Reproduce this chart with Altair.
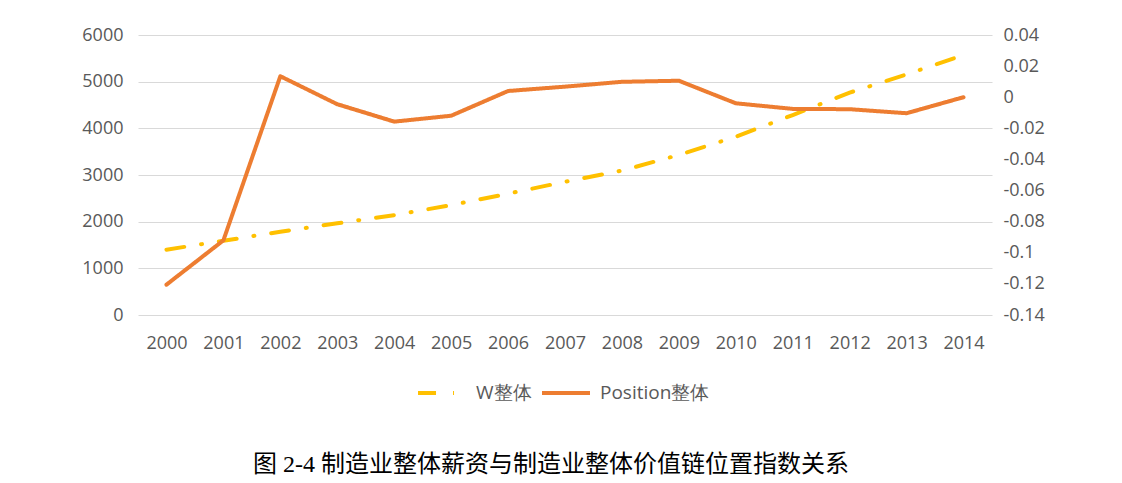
import altair as alt
import pandas as pd

years = [str(y) for y in range(2000, 2015)]
w_values = [1400, 1590, 1785, 1965, 2140, 2355, 2600, 2855, 3095, 3430, 3820, 4285, 4765, 5155, 5570]
pos_values = [-0.1205, -0.092, 0.0135, -0.0045, -0.0157, -0.0119, 0.004, 0.0068, 0.0099, 0.0106,
              -0.0039, -0.0075, -0.0077, -0.0103, 0.0]
series_names = ["W整体", "Position整体"]
left_ticks = [0, 1000, 2000, 3000, 4000, 5000, 6000]
right_ticks = [-0.14, -0.12, -0.1, -0.08, -0.06, -0.04, -0.02, 0, 0.02, 0.04]
title_text = "图 2-4  制造业整体薪资与制造业整体价值链位置指数关系"

df = pd.DataFrame({
    "year": years * 2,
    "series": [series_names[0]] * len(years) + [series_names[1]] * len(years),
    "value": w_values + pos_values,
})

FONT = "Open Sans"
GRAY = "#595959"
FS = 18

color = alt.Color(
    "series:N",
    scale=alt.Scale(domain=series_names, range=["#FFC000", "#ED7D31"]),
    legend=alt.Legend(
        title=None, orient="none", legendX=278, legendY=332, direction="horizontal",
        symbolType="stroke", symbolStrokeWidth=4, symbolSize=2300,
        labelFont=FONT, labelFontSize=19, labelColor=GRAY,
        columnPadding=2, labelOffset=8,
    ),
)
dash = alt.StrokeDash(
    "series:N",
    scale=alt.Scale(domain=series_names, range=[[18, 17, 1, 17], [1, 0]]),
    legend=alt.Legend(title=None),
)

x = alt.X("year:O", title=None,
          axis=alt.Axis(labelAngle=0, labelFont=FONT, labelFontSize=FS, labelColor=GRAY,
                        domain=False, ticks=False, labelPadding=19, grid=False))

w_line = alt.Chart(df).transform_filter(alt.datum.series == series_names[0]).mark_line(
    strokeWidth=4, strokeCap="round"
).encode(
    x=x,
    y=alt.Y("value:Q", title=None,
            scale=alt.Scale(domain=[0, 6000], nice=False),
            axis=alt.Axis(values=left_ticks, format="d", labelFont=FONT, labelFontSize=FS,
                          labelColor=GRAY, domain=False, ticks=False, labelPadding=15,
                          grid=True, gridColor="#D9D9D9", gridWidth=1)),
    color=color,
    strokeDash=dash,
)

p_line = alt.Chart(df).transform_filter(alt.datum.series == series_names[1]).mark_line(
    strokeWidth=4, strokeCap="round", strokeJoin="round"
).encode(
    x=x,
    y=alt.Y("value:Q", title=None,
            scale=alt.Scale(domain=[-0.14, 0.04], nice=False),
            axis=alt.Axis(orient="right", values=right_ticks,
                          labelExpr="(datum.value < 0 ? '-' : '') + format(abs(datum.value), '.2~f')",
                          labelFont=FONT, labelFontSize=FS, labelColor=GRAY,
                          domain=False, ticks=False, labelPadding=11, grid=False)),
    color=color,
    strokeDash=dash,
)

chart = alt.layer(w_line, p_line).resolve_scale(y="independent").properties(
    width=854, height=280,
    autosize=alt.AutoSizeParams(type="none"),
    padding={"left": 130, "top": 27, "right": 120, "bottom": 166},
    title=alt.TitleParams(title_text, orient="bottom", anchor="middle",
                          font="Liberation Serif, Noto Sans CJK SC", fontSize=24,
                          fontWeight="normal", color="#000000", offset=50, dx=-14),
).configure_view(stroke=None)

chart.save("out.html", embed_options={"renderer": "svg", "actions": False})
